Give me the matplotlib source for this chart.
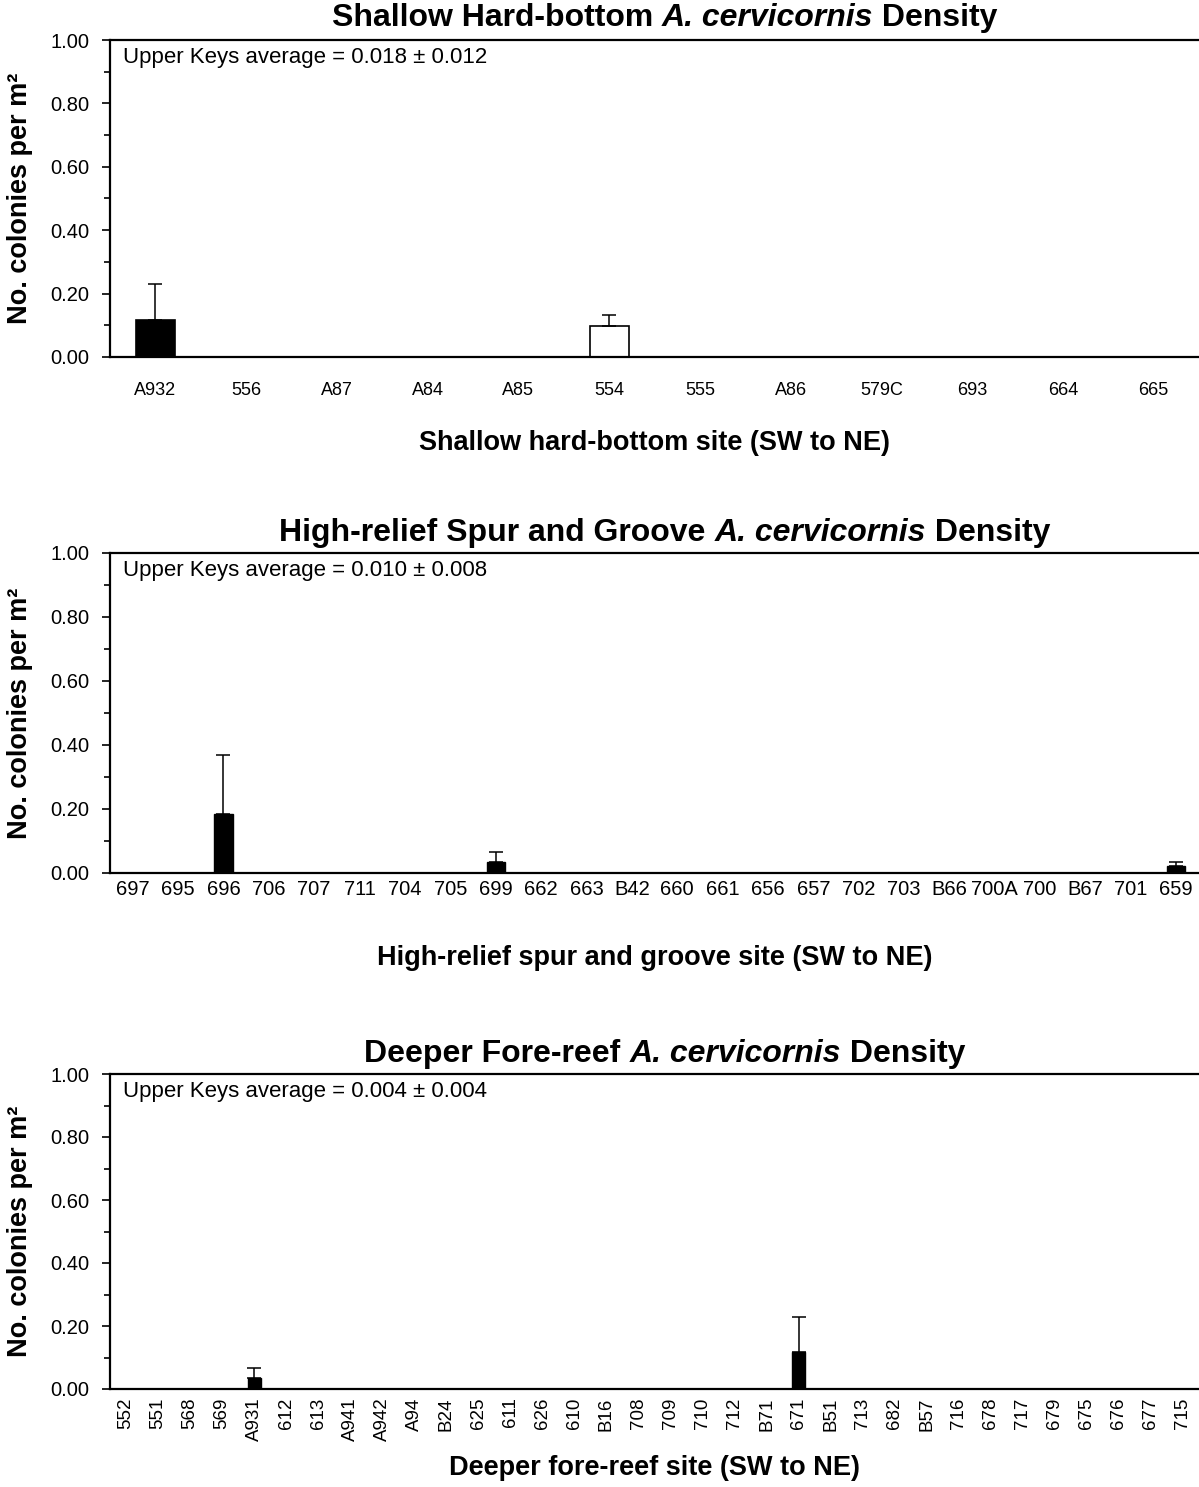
import numpy as np
import matplotlib
matplotlib.use('Agg')
import matplotlib.pyplot as plt

plt.rcParams['font.family'] = ['Liberation Sans', 'DejaVu Sans']

# Daten: Standorte (SW -> NE), Dichte und Fehler
sites_hb = ['A932', '556', 'A87', 'A84', 'A85', '554', '555', 'A86', '579C', '693', '664', '665']
dens_hb = [0.117, 0, 0, 0, 0, 0.098, 0, 0, 0, 0, 0, 0]
err_hb = [0.113, 0, 0, 0, 0, 0.033, 0, 0, 0, 0, 0, 0]
fill_hb = ['black', 'white', 'black', 'black', 'black', 'white',
           'black', 'black', 'black', 'black', 'black', 'black']

sites_sg = ['697', '695', '696', '706', '707', '711', '704', '705', '699', '662', '663', 'B42',
            '660', '661', '656', '657', '702', '703', 'B66', '700A', '700', 'B67', '701', '659']
dens_sg = [0, 0, 0.185, 0, 0, 0, 0, 0, 0.035, 0, 0, 0,
           0, 0, 0, 0, 0, 0, 0, 0, 0, 0, 0, 0.022]
err_sg = [0, 0, 0.185, 0, 0, 0, 0, 0, 0.032, 0, 0, 0,
          0, 0, 0, 0, 0, 0, 0, 0, 0, 0, 0, 0.013]

sites_fr = ['552', '551', '568', '569', 'A931', '612', '613', 'A941', 'A942', 'A94', 'B24', '625',
            '611', '626', '610', 'B16', '708', '709', '710', '712', 'B71', '671', 'B51', '713',
            '682', 'B57', '716', '678', '717', '679', '675', '676', '677', '715']
dens_fr = [0] * 34
err_fr = [0] * 34
dens_fr[4], err_fr[4] = 0.036, 0.031
dens_fr[21], err_fr[21] = 0.117, 0.113

avg_text = ['Upper Keys average = 0.018 \u00b1 0.012',
            'Upper Keys average = 0.010 \u00b1 0.008',
            'Upper Keys average = 0.004 \u00b1 0.004']
titles = [('Shallow Hard-bottom ', ' Density'),
          ('High-relief Spur and Groove ', ' Density'),
          ('Deeper Fore-reef ', ' Density')]
xlabels = ['Shallow hard-bottom site (SW to NE)',
           'High-relief spur and groove site (SW to NE)',
           'Deeper fore-reef site (SW to NE)']

W, H = 1199, 1487
fig = plt.figure(figsize=(W / 100, H / 100), dpi=100)

# Achsen in Pixeln: (oben, unten)
boxes = [(40, 357), (553, 873), (1074, 1389)]
left, right = 110, 1199
axes = []
for top, bot in boxes:
    ax = fig.add_axes([left / W, 1 - bot / H, (right - left) / W, (bot - top) / H])
    axes.append(ax)


def style_axis(ax, n):
    ax.set_xlim(-0.5, n - 0.5)
    ax.set_ylim(0, 1.0)
    ax.set_yticks(np.arange(0, 1.01, 0.2))
    ax.set_yticks(np.arange(0.1, 1.0, 0.2), minor=True)
    ax.set_yticklabels(['%.2f' % v for v in np.arange(0, 1.01, 0.2)], fontsize=14.5)
    ax.tick_params(axis='y', which='major', direction='out', length=6, width=1.2, pad=9)
    ax.tick_params(axis='y', which='minor', direction='out', length=4, width=1.2)
    ax.tick_params(axis='x', length=0)
    ax.spines['right'].set_visible(False)
    for s in ['left', 'bottom', 'top']:
        ax.spines[s].set_linewidth(1.6)
    ax.set_ylabel('No. colonies per m\u00b2', fontsize=19.5, fontweight='bold')
    ax.yaxis.set_label_coords(-0.071, 0.5)


# Panel 1
ax = axes[0]
x = np.arange(len(sites_hb))
ax.bar(x, dens_hb, width=0.43, color=fill_hb, edgecolor='black', linewidth=1.2, zorder=2)
ax.errorbar(x, dens_hb, yerr=[np.zeros(len(x)), err_hb], fmt='none', ecolor='black',
            elinewidth=1.1, capsize=5, capthick=1.1, zorder=3)
style_axis(ax, len(sites_hb))
ax.set_xticks(x)
ax.set_xticklabels(sites_hb, fontsize=13)
ax.tick_params(axis='x', pad=18)

# Panel 2
ax = axes[1]
x = np.arange(len(sites_sg))
ax.bar(x, dens_sg, width=0.4, color='black', edgecolor='black', linewidth=1.0, zorder=2)
mask = np.array(err_sg) > 0
ax.errorbar(x[mask], np.array(dens_sg)[mask], yerr=[np.zeros(mask.sum()), np.array(err_sg)[mask]],
            fmt='none', ecolor='black', elinewidth=1.1, capsize=5, capthick=1.1, zorder=3)
style_axis(ax, len(sites_sg))
ax.set_xticks(x)
ax.set_xticklabels(sites_sg, fontsize=14.5)
ax.tick_params(axis='x', pad=5)

# Panel 3
ax = axes[2]
x = np.arange(len(sites_fr))
ax.bar(x, dens_fr, width=0.4, color='black',
       edgecolor=['black' if d > 0 else '#c8c8c8' for d in dens_fr], linewidth=1.0, zorder=2)
mask = np.array(err_fr) > 0
ax.errorbar(x[mask], np.array(dens_fr)[mask], yerr=[np.zeros(mask.sum()), np.array(err_fr)[mask]],
            fmt='none', ecolor='black', elinewidth=1.1, capsize=5, capthick=1.1, zorder=3)
style_axis(ax, len(sites_fr))
ax.set_xticks(x)
ax.set_xticklabels(sites_fr, fontsize=13.5, rotation=90)
ax.tick_params(axis='x', pad=6)

xlab_y = [-0.27, -0.266, -0.25]
for i, ax in enumerate(axes):
    ax.text(0.012, 0.945, avg_text[i], transform=ax.transAxes, fontsize=16, va='center', ha='left')
    ax.text(0.5, xlab_y[i], xlabels[i], transform=ax.transAxes, fontsize=19.5,
            fontweight='bold', ha='center', va='center')

# Titel aus Teilen (fett + fett-kursiv)
fig.canvas.draw()
r = fig.canvas.get_renderer()
title_y = [18, 533, 1054]
for i, ax in enumerate(axes):
    pre, post = titles[i]
    parts = [(pre, 'normal'), ('A. cervicornis', 'italic'), (post, 'normal')]
    tx = []
    for s, st in parts:
        t = fig.text(0, 1 - title_y[i] / H, s, fontsize=23, fontweight='bold', style=st,
                     va='center', ha='left')
        tx.append(t)
    widths = [t.get_window_extent(r).width for t in tx]
    cx = (left + right) / 2 + 10
    xpos = cx - sum(widths) / 2
    for t, w in zip(tx, widths):
        t.set_x(xpos / W)
        xpos += w

fig.savefig('out.png', dpi=100)
